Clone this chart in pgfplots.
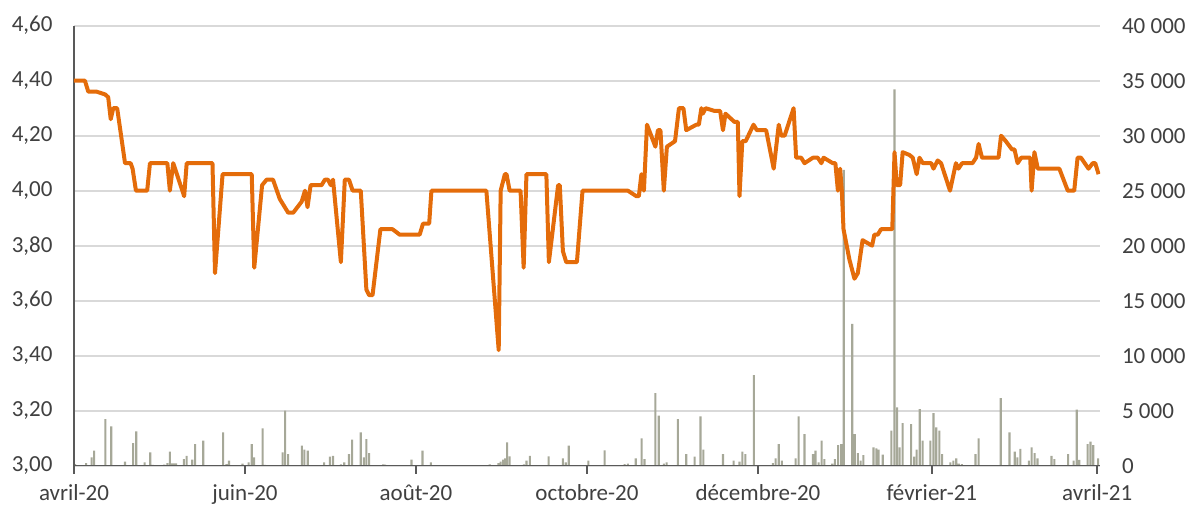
\documentclass[border=0pt]{standalone}
\usepackage{fontspec}
\setmainfont{Carlito}
\usepackage{pgfplots}
\usepackage{pgfplotstable}
\pgfplotsset{compat=1.18}
\definecolor{linecol}{RGB}{228,108,10}
\definecolor{barcol}{RGB}{166,168,152}
\definecolor{txt}{RGB}{64,64,64}
\definecolor{axc}{RGB}{89,89,89}
\definecolor{gridc}{RGB}{217,217,217}

% day 0 = 1 April 2020
\pgfplotstableread{
d v
0 4.40
3.9 4.40
5.1 4.36
8.1 4.36
11.1 4.35
12.2 4.34
13.1 4.26
14.0 4.30
15.4 4.30
18.2 4.10
20.2 4.10
20.9 4.08
22.1 4.00
26.1 4.00
27.1 4.10
33.3 4.10
34.2 4.00
35.4 4.10
39.3 3.98
40.2 4.10
49.4 4.10
50.3 3.70
53.0 4.06
63.4 4.06
64.3 3.72
67.1 4.02
68.7 4.04
71.0 4.04
73.4 3.97
76.4 3.92
78.2 3.92
81.2 3.96
82.4 4.00
83.3 3.94
84.4 4.02
88.3 4.02
89.5 4.04
90.6 4.04
91.6 4.02
92.4 4.04
95.2 3.74
96.6 4.04
98.1 4.04
99.4 4.00
102.3 4.00
104.3 3.64
105.3 3.62
106.5 3.62
109.3 3.86
113.6 3.86
116.2 3.84
123.3 3.84
124.5 3.88
126.7 3.88
127.5 4.00
147.1 4.00
151.5 3.42
152.2 4.00
153.7 4.06
154.3 4.06
155.4 4.00
159.3 4.00
160.4 3.72
161.4 4.06
168.5 4.06
169.4 3.74
172.7 4.02
173.3 4.02
174.4 3.78
175.6 3.74
179.4 3.74
181.4 4.00
197.6 4.00
200.6 3.98
201.5 3.98
202.4 4.06
203.3 4.00
204.4 4.24
207.4 4.16
208.3 4.22
209.2 4.22
210.4 4.00
211.5 4.16
214.4 4.18
215.8 4.30
217.4 4.30
218.4 4.22
222.0 4.24
222.9 4.24
223.8 4.30
224.3 4.28
225.3 4.30
228.5 4.29
230.5 4.29
231.5 4.22
232.4 4.28
235.6 4.25
236.8 4.25
237.4 3.98
238.4 4.18
239.6 4.18
242.4 4.24
243.6 4.22
246.9 4.22
249.6 4.08
251.4 4.24
252.3 4.20
253.5 4.20
256.7 4.30
257.6 4.12
259.4 4.12
260.6 4.10
263.6 4.12
265.3 4.12
266.6 4.10
267.4 4.12
270.7 4.10
271.6 4.10
272.5 4.00
273.3 4.08
273.9 4.00
274.5 3.86
276.6 3.75
278.4 3.68
279.6 3.70
281.3 3.82
284.7 3.80
285.5 3.84
286.7 3.84
287.9 3.86
291.9 3.86
292.7 4.14
293.5 4.02
294.7 4.02
295.6 4.14
298.0 4.13
299.2 4.12
300.6 4.06
301.6 4.12
302.8 4.10
305.8 4.10
306.6 4.08
308.1 4.11
309.3 4.10
312.5 4.00
314.6 4.10
315.5 4.08
316.8 4.10
320.5 4.10
321.8 4.12
322.7 4.17
323.9 4.12
329.8 4.12
330.7 4.20
332.4 4.18
334.6 4.15
335.5 4.15
336.6 4.10
337.9 4.12
341.1 4.12
341.6 4.00
342.6 4.14
343.8 4.08
351.5 4.08
354.5 4.00
356.8 4.00
358.0 4.12
359.2 4.12
361.9 4.08
363.4 4.10
364.3 4.10
365.5 4.06
}\price

\pgfplotstableread{
d v
0.4 150
4.3 240
6.3 750
7.2 1360
11.2 4240
13.3 3580
18.2 360
21.1 2060
22.2 3120
25.2 300
27.2 1210
28.1 80
32.2 90
33.3 240
34.2 1270
35.0 200
35.7 200
36.4 200
39.2 600
40.2 900
42.2 550
43.2 1970
46.1 2270
47.3 60
50.3 60
53.2 3030
54.4 150
55.3 450
60.1 180
62.3 300
63.4 1970
64.2 760
67.3 3390
68.1 80
74.4 1210
75.3 5000
76.4 1060
81.3 1820
82.2 1450
83.4 1360
89.2 300
91.3 820
92.4 900
95.2 120
96.4 300
98.1 1060
99.2 2360
102.3 3030
103.4 760
104.3 2420
105.3 1150
110.3 120
111.0 100
120.4 550
124.3 1360
127.3 300
134.3 60
148.3 120
151.4 240
152.2 360
153.1 550
153.8 670
154.5 2120
155.4 850
160.5 120
161.4 450
162.6 900
169.3 850
172.4 60
174.4 670
175.4 300
176.5 1820
180.4 60
183.5 450
189.3 1390
193.7 60
196.4 150
197.6 180
200.4 670
202.5 2480
203.5 600
207.4 6600
208.6 4550
210.4 180
211.4 300
215.4 4240
218.4 1060
221.4 820
223.5 4480
224.5 1450
228.5 60
231.5 1060
232.5 60
235.3 450
237.4 360
238.4 1270
239.5 1060
242.5 8240
249.3 240
250.3 670
251.4 1970
252.5 450
257.4 670
258.5 4480
260.6 2880
263.6 1060
264.5 1360
265.6 300
266.7 2270
267.7 600
270.5 180
271.4 600
272.6 1880
273.7 1970
274.6 26900
277.6 12900
278.5 2880
279.6 1150
280.6 450
281.6 970
285.2 1670
286.2 1580
287.0 1450
288.5 1000
291.6 3180
292.7 34200
293.6 5300
294.5 1670
295.6 3880
298.6 3790
299.7 820
300.6 1450
301.7 5150
302.7 2270
305.5 2270
306.6 4790
307.6 3480
308.7 3180
309.7 1060
312.6 300
313.7 450
314.7 670
315.6 180
316.7 150
319.7 60
321.6 1060
322.7 2480
323.6 60
326 40
328 40
330.6 6150
333.7 3030
335.6 1270
336.5 760
337.6 1520
340.6 450
341.6 1670
342.7 1150
343.7 670
348.7 900
349.7 600
350.7 60
354.6 1060
356.6 450
357.7 5090
358.6 520
361.6 1970
362.6 2180
363.6 1880
365.3 670
}\volume

\begin{document}
\begin{tikzpicture}
\pgfplotsset{
  every axis/.append style={
    scale only axis, width=513pt, height=220pt,
    xmin=0, xmax=366,
    tick label style={font=\fontsize{11.5}{13.5}\selectfont, text=txt},
  }
}
% volume (right axis) with grid
\begin{axis}[name=vol,
  axis x line=none,
  axis y line*=right,
  y axis line style={draw=none},
  ymin=0, ymax=40000,
  scaled y ticks=false,
  ytick={0,5000,10000,15000,20000,25000,30000,35000,40000},
  yticklabels={0,5 000,10 000,15 000,20 000,25 000,30 000,35 000,40 000},
  ytick style={draw=none},
  yticklabel style={anchor=west, xshift=7.5pt},
  ymajorgrids, grid style={gridc, line width=0.9pt},
]
\addplot[ybar, bar width=0.75, bar shift=0, fill=barcol, draw=none] table[x=d,y=v]{\volume};
\end{axis}
% price (left axis)
\begin{axis}[name=pr,
  axis x line*=bottom,
  axis y line*=left,
  axis line style={axc, line width=0.8pt},
  ymin=3, ymax=4.6,
  ytick={3,3.2,3.4,3.6,3.8,4,4.2,4.4,4.6},
  yticklabels={{3,00},{3,20},{3,40},{3,60},{3,80},{4,00},{4,20},{4,40},{4,60}},
  ytick style={draw=none},
  yticklabel style={xshift=-7.2pt},
  xtick={0,61,122,183,244,306,365},
  xticklabels={avril-20,juin-20,août-20,octobre-20,décembre-20,février-21,avril-21},
  xtick align=outside,
  major tick length=4pt,
  xtick style={axc, line width=0.8pt},
  xticklabel style={yshift=-2pt},
]
\addplot[linecol, line width=2pt, line join=round, no marks] table[x=d,y=v]{\price};
\end{axis}
\pgfresetboundingbox
\path (pr.south west) ++(-37pt,-20.5pt) rectangle ([shift={(44.5pt,12.85pt)}]pr.north east);
\end{tikzpicture}
\end{document}
